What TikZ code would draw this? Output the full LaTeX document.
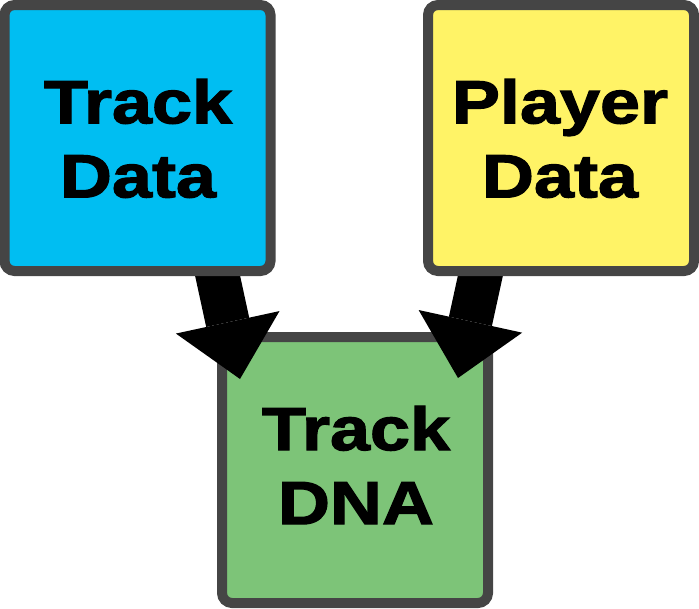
\documentclass[tikz,border=0pt]{standalone}
\usepackage{fontspec}
\usetikzlibrary{arrows.meta}
\newfontfamily\boxfont{Liberation Sans Bold}[FakeStretch=1.18,FakeBold=2]
\definecolor{bordergray}{RGB}{69,69,69}
\definecolor{cyanfill}{RGB}{0,190,242}
\definecolor{yellowfill}{RGB}{255,243,102}
\definecolor{greenfill}{RGB}{125,196,120}
\tikzset{
  databox/.style={draw=bordergray, line width=10pt, rounded corners=10pt,
    minimum width=266pt, minimum height=266pt, inner sep=0pt, outer sep=0pt},
  boxtext/.style={font=\boxfont\fontsize{61}{74}\selectfont, align=center,
    inner sep=0pt, text=black},
  bigarrow/.style={line width=44pt, black,
    -{Triangle[length=58pt,width=106pt,line width=0pt]}}
}
\begin{document}
\begin{tikzpicture}[x=1pt,y=-1pt]
\useasboundingbox (0,0) rectangle (699,608);
% bottom box
\node[databox, fill=greenfill] (dna) at (355,470) {};
% arrows
\coordinate (lstart) at (212,250);
\coordinate (ltip) at (240,379);
\coordinate (rstart) at (486,250);
\coordinate (rtip) at (458,378);
\draw[bigarrow] (lstart) -- (ltip);
\draw[bigarrow] (rstart) -- (rtip);
% top boxes
\node[databox, fill=cyanfill] (track) at (137.5,138) {};
\node[databox, fill=yellowfill] (player) at (561,138) {};
% texts
\node[boxtext] (tracktext) at (138,138.5) {Track\\Data};
\node[boxtext] (playertext) at (560,138.5) {Player\\Data};
\node[boxtext] (dnatext) at (356,465) {Track\\DNA};
\end{tikzpicture}
\end{document}
